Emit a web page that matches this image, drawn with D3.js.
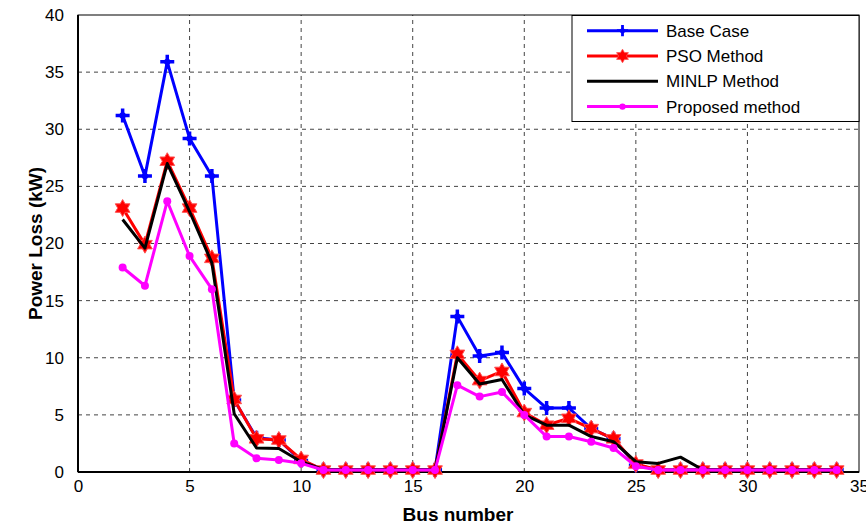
<!DOCTYPE html>
<html>
<head>
<meta charset="utf-8">
<script src="https://cdn.jsdelivr.net/npm/d3@7"></script>
<style>
  body { margin: 0; background: #fff; }
  text { font-family: "Liberation Sans", Arial, sans-serif; }
  .tick text { font-size: 17px; fill: #000; }
</style>
</head>
<body>
<svg id="chart" width="866" height="526"></svg>
<script>
// bus numbers 2..34
const buses = d3.range(2, 35);
const seriesNames = ["Base Case", "PSO Method", "MINLP Method", "Proposed method"];
const baseCase = [31.2, 25.9, 35.9, 29.2, 25.9, 6.3, 3.0, 2.8, 1.0, 0.2, 0.2, 0.2, 0.2, 0.2, 0.2,
  13.6, 10.15, 10.45, 7.3, 5.6, 5.6, 3.8, 2.9, 0.6, 0.2, 0.2, 0.2, 0.2, 0.2, 0.2, 0.2, 0.2, 0.2];
const psoMethod = [23.1, 19.9, 27.2, 23.1, 18.7, 6.35, 2.9, 2.8, 1.1, 0.17, 0.17, 0.17, 0.17, 0.17, 0.17,
  10.3, 8.0, 8.8, 5.2, 4.1, 4.7, 3.8, 2.9, 0.7, 0.17, 0.17, 0.17, 0.17, 0.17, 0.17, 0.17, 0.17, 0.17];
const minlpMethod = [22.1, 19.6, 27.0, 22.8, 18.3, 5.1, 2.1, 2.05, 0.9, 0.2, 0.2, 0.2, 0.2, 0.2, 0.2,
  10.0, 7.7, 8.1, 5.0, 4.1, 4.1, 3.1, 2.65, 0.9, 0.75, 1.3, 0.2, 0.2, 0.2, 0.2, 0.2, 0.2, 0.2];
const proposed = [17.9, 16.3, 23.7, 18.9, 16.0, 2.5, 1.2, 1.05, 0.76, 0.17, 0.17, 0.17, 0.17, 0.17, 0.17,
  7.6, 6.6, 7.0, 5.0, 3.1, 3.1, 2.65, 2.1, 0.5, 0.17, 0.17, 0.17, 0.17, 0.17, 0.17, 0.17, 0.17, 0.17];
const xTicks = [0, 5, 10, 15, 20, 25, 30, 35];
const yTicks = [0, 5, 10, 15, 20, 25, 30, 35, 40];

const svg = d3.select("#chart");
const W = 866, H = 526;
const m = {top: 15, right: 7, bottom: 54, left: 78};
const x = d3.scaleLinear().domain([0, 35]).range([m.left, W - m.right]);
const y = d3.scaleLinear().domain([0, 40]).range([H - m.bottom, m.top]);

// grid
const grid = svg.append("g");
grid.selectAll(".gx").data(xTicks.slice(1, -1)).join("line")
    .attr("x1", d => x(d)).attr("x2", d => x(d)).attr("y1", y(0)).attr("y2", y(40))
    .attr("stroke", "#444").attr("stroke-width", 1).attr("stroke-dasharray", "4,4");
grid.selectAll(".gy").data(yTicks.slice(1, -1)).join("line")
    .attr("y1", d => y(d)).attr("y2", d => y(d)).attr("x1", x(0)).attr("x2", x(35))
    .attr("stroke", "#444").attr("stroke-width", 1).attr("stroke-dasharray", "4,4");

// frame
svg.append("rect").attr("x", x(0)).attr("y", y(40))
    .attr("width", x(35) - x(0)).attr("height", y(0) - y(40))
    .attr("fill", "none").attr("stroke", "#000").attr("stroke-width", 1);
svg.append("line").attr("x1", x(0)).attr("x2", x(35)).attr("y1", y(0)).attr("y2", y(0))
    .attr("stroke", "#000").attr("stroke-width", 2);
svg.append("line").attr("x1", x(0)).attr("x2", x(0)).attr("y1", y(0)).attr("y2", y(40))
    .attr("stroke", "#000").attr("stroke-width", 2);

// axes (labels only)
const xAxis = svg.append("g").attr("transform", `translate(0,${y(0)})`)
    .call(d3.axisBottom(x).tickValues(xTicks).tickSize(0).tickPadding(8));
const yAxis = svg.append("g").attr("transform", `translate(${x(0)},0)`)
    .call(d3.axisLeft(y).tickValues(yTicks).tickSize(0).tickPadding(14));
xAxis.select(".domain").remove();
yAxis.select(".domain").remove();

// markers
function hexagram(r){
    const p = [];
    for (let i = 0; i < 12; i++){
        const a = -Math.PI / 2 + i * Math.PI / 6;
        const rr = i % 2 === 0 ? r : r * 0.577;
        p.push([rr * Math.cos(a), rr * Math.sin(a)]);
    }
    return "M" + p.map(q => q.join(",")).join("L") + "Z";
}
function drawMarker(g, type, color){
    if (type === "plus"){
        g.append("path").attr("d", "M-7,0H7M0,-7V7").attr("stroke", color).attr("stroke-width", 3.5);
        g.append("circle").attr("r", 3.2).attr("fill", color);
    } else if (type === "star"){
        g.append("path").attr("d", hexagram(8.5)).attr("fill", "red")
            .attr("stroke", "#ff5050").attr("stroke-width", 1);
    } else if (type === "dot"){
        g.append("circle").attr("r", 4).attr("fill", color);
    }
}

const series = [
    {name: seriesNames[0], vals: baseCase, color: "#0000ff", marker: "plus"},
    {name: seriesNames[1], vals: psoMethod, color: "#ff0000", marker: "star"},
    {name: seriesNames[2], vals: minlpMethod, color: "#000000", marker: null},
    {name: seriesNames[3], vals: proposed, color: "#ff00ff", marker: "dot"}
];

const line = d3.line().x(d => x(d[0])).y(d => y(d[1]));
series.forEach(s => {
    const pts = buses.map((b, i) => [b, s.vals[i]]);
    const g = svg.append("g");
    g.append("path").datum(pts).attr("d", line)
        .attr("fill", "none").attr("stroke", s.color).attr("stroke-width", 3)
        .attr("stroke-linejoin", "round");
    if (s.marker){
        g.selectAll(".mk").data(pts).join("g")
            .attr("transform", d => `translate(${x(d[0])},${y(d[1])})`)
            .each(function(){ drawMarker(d3.select(this), s.marker, s.color); });
    }
});

// legend
const lg = svg.append("g");
lg.append("rect").attr("x", 572).attr("y", 15.5).attr("width", 859 - 572).attr("height", 106)
    .attr("fill", "#fff").attr("stroke", "#000").attr("stroke-width", 1);
series.forEach((s, i) => {
    const ly = 30.7 + i * 25.3;
    lg.append("line").attr("x1", 587).attr("x2", 658).attr("y1", ly).attr("y2", ly)
        .attr("stroke", s.color).attr("stroke-width", 3);
    if (s.marker){
        const mg = lg.append("g").attr("transform", `translate(622.5,${ly}) scale(0.8)`);
        drawMarker(mg, s.marker, s.color);
    }
    lg.append("text").attr("x", 666).attr("y", ly + 6).attr("font-size", "17px").text(s.name);
});

// axis titles
svg.append("text").attr("x", 458).attr("y", 521).attr("text-anchor", "middle")
    .attr("font-size", "19px").attr("font-weight", "bold").text("Bus number");
svg.append("text").attr("transform", `translate(28,${(y(0) + y(40)) / 2}) rotate(-90)`)
    .attr("text-anchor", "middle").attr("dy", "0.75em")
    .attr("font-size", "19px").attr("font-weight", "bold").text("Power Loss (kW)");
</script>
</body>
</html>
